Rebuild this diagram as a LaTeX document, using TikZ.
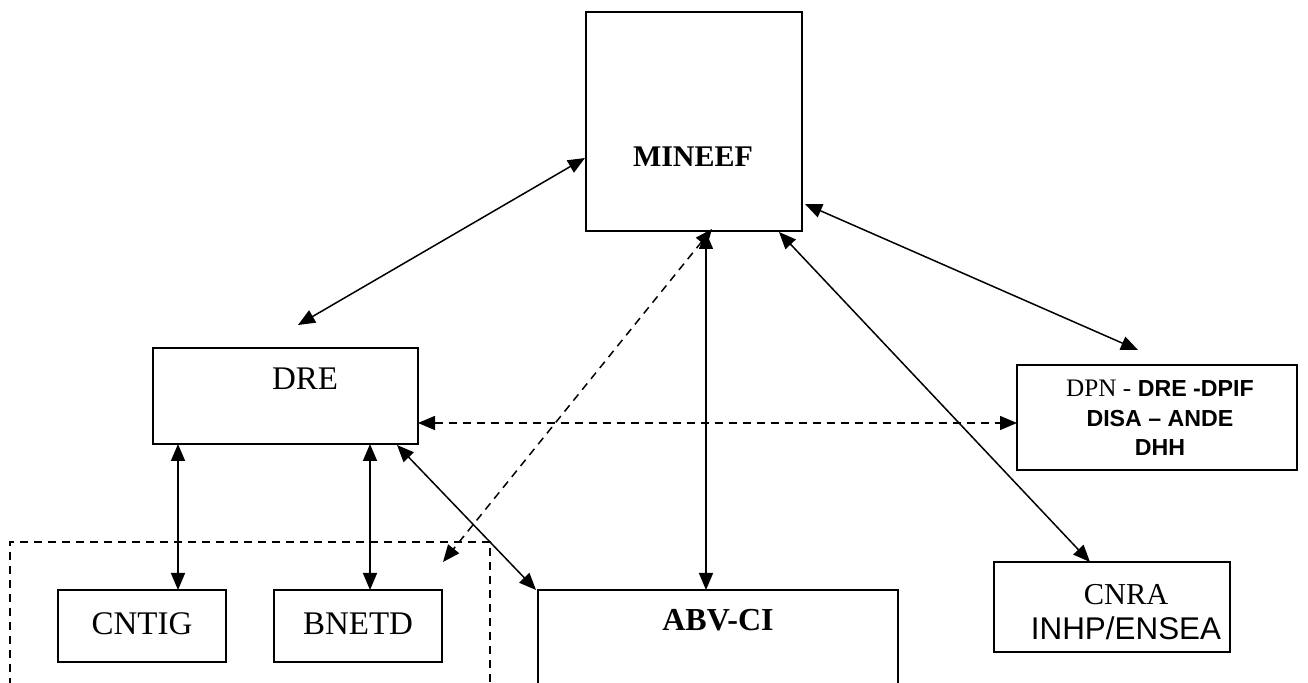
\documentclass[tikz,border=0pt]{standalone}
\usepackage{fontspec}
\setmainfont{Liberation Serif}
\newfontfamily\arialf{Liberation Sans}
\usetikzlibrary{arrows.meta}
\begin{document}
\begin{tikzpicture}[x=0.5pt,y=-0.5pt,
  box/.style={draw, line width=0.75pt, inner sep=0pt},
  con/.style={line width=0.75pt, {Triangle[length=8.5pt,width=7pt]}-{Triangle[length=8.5pt,width=7pt]}},
  dcon/.style={con, dash pattern=on 4pt off 3pt},
  lbl/.style={inner sep=0pt, font=\fontsize{16.5pt}{19pt}\selectfont},
  blbl/.style={inner sep=0pt, font=\fontsize{16pt}{19pt}\selectfont\bfseries}]
\useasboundingbox (0,0) rectangle (1308,683);
% boxes
\node[box, minimum width=108pt, minimum height=109.5pt] (mineef) at (694,121.5) {};
\node[box, minimum width=132.5pt, minimum height=48pt] (dre) at (285.5,396) {};
\node[box, minimum width=140pt, minimum height=52.5pt] (dpn) at (1157,417.5) {};
\node[box, minimum width=84pt, minimum height=36pt] (cntig) at (142,626) {};
\node[box, minimum width=84pt, minimum height=36pt] (bnetd) at (358,626) {};
\node[box, minimum width=180pt, minimum height=65pt] (abv) at (718,655) {};
\node[box, minimum width=118pt, minimum height=45pt] (cnra) at (1112,607) {};
\node[draw, line width=0.75pt, dash pattern=on 4pt off 3pt, inner sep=0pt,
      minimum width=240pt, minimum height=89pt] (grp) at (250,631) {};
% texts
\node[inner sep=0pt, font=\fontsize{15pt}{18pt}\selectfont\bfseries] (tmineef) at (693,157) {MINEEF};
\node[lbl] (tdre) at (305,379) {DRE};
\node[inner sep=0pt, align=center, font=\arialf\bfseries\fontsize{11.6pt}{14.75pt}\selectfont] (tdpn) at (1160,418)
  {{\rmfamily\mdseries\fontsize{12.6pt}{14.75pt}\selectfont DPN -} DRE -DPIF\\DISA – ANDE\\DHH};
\node[lbl] (tcntig) at (142,624) {CNTIG};
\node[lbl] (tbnetd) at (358,624) {BNETD};
\node[blbl] (tabv) at (718,620) {ABV-CI};
\node[inner sep=0pt, align=center, font=\fontsize{15.2pt}{17.5pt}\selectfont] (tcnra) at (1126,612)
  {CNRA\\{\arialf\fontsize{15.7pt}{17.5pt}\selectfont INHP/ENSEA}};
% connector ends
\coordinate (c1a) at (298,325); \coordinate (c1b) at (585,158);
\coordinate (c2a) at (805,204); \coordinate (c2b) at (1138,350);
\coordinate (c3a) at (779,232); \coordinate (c3b) at (1090,562);
\coordinate (c4a) at (706,232); \coordinate (c4b) at (706,590);
\coordinate (c5a) at (712,229); \coordinate (c5b) at (443,562);
\coordinate (c6a) at (418,423); \coordinate (c6b) at (1017,423);
\coordinate (c7a) at (178,444); \coordinate (c7b) at (178,590);
\coordinate (c8a) at (370,444); \coordinate (c8b) at (370,590);
\coordinate (c9a) at (397,445); \coordinate (c9b) at (536,590);
% connectors
\draw[con] (c1a) -- (c1b);
\draw[con] (c2a) -- (c2b);
\draw[con] (c3a) -- (c3b);
\draw[con] (c4a) -- (c4b);
\draw[dcon] (c5a) -- (c5b);
\draw[dcon] (c6a) -- (c6b);
\draw[con] (c7a) -- (c7b);
\draw[con] (c8a) -- (c8b);
\draw[con] (c9a) -- (c9b);
\end{tikzpicture}
\end{document}
